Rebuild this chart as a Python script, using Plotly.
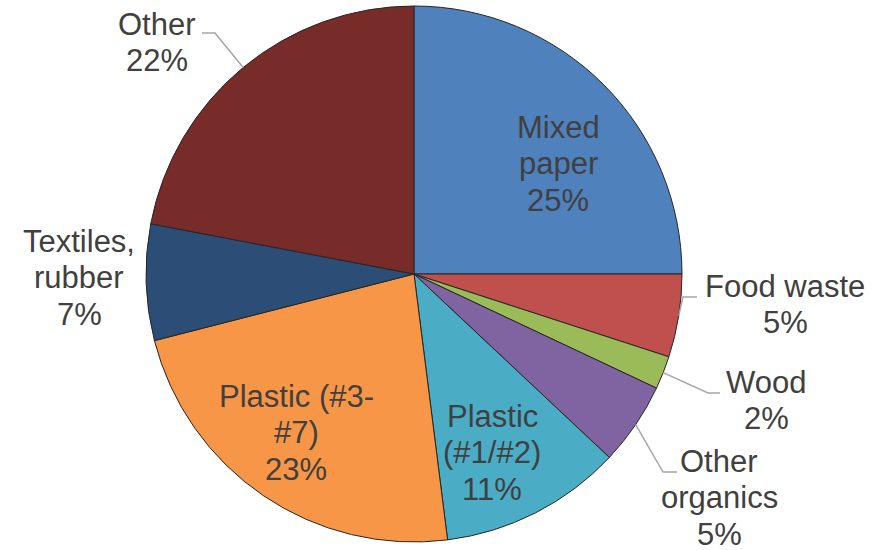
import math
import plotly.graph_objects as go

# Waste composition shares (percent), clockwise from 12 o'clock
categories = ["Mixed paper", "Food waste", "Wood", "Other organics",
              "Plastic (#1/#2)", "Plastic (#3-#7)", "Textiles, rubber", "Other"]
shares = [25, 5, 2, 5, 11, 23, 7, 22]
colors = ["#4F81BD", "#C0504D", "#9BBB59", "#8064A2",
          "#4BACC6", "#F79646", "#2C4D75", "#772C2A"]
# How each category name wraps in its label
label_lines = [["Mixed", "paper"], ["Food waste"], ["Wood"], ["Other", "organics"],
               ["Plastic", "(#1/#2)"], ["Plastic (#3-", "#7)"], ["Textiles,", "rubber"], ["Other"]]

W, H = 879, 550
CX, CY, R = 414, 274, 268          # pie centre / radius in pixels
FONT = 31
LINE_GAP = 36.5
TEXT_COLOR = "#404040"

# Label block: x centre and first baseline (pixels)
label_pos = [(558, 138), (785, 297), (766, 393), (719, 472),
             (492, 427), (296, 407), (79, 252), (157, 35)]
# Leader lines: elbow point and end point (pixels); None = no leader
leaders = [None, ((683, 297), (697, 297)), ((708, 393), (720, 393)),
           ((663, 472), (677, 472)), None, None, None, ((215, 33), (202, 33))]


def px(x):
    return x / W


def py(y):
    return 1 - y / H


fig = go.Figure(go.Pie(
    labels=categories,
    values=shares,
    sort=False,
    direction="clockwise",
    rotation=0,
    marker=dict(colors=colors, line=dict(color="#262626", width=1)),
    textinfo="none",
    hoverinfo="label+percent",
    showlegend=False,
    domain=dict(x=[px(CX - R), px(CX + R)], y=[py(CY + R), py(CY - R)]),
))

total = sum(shares)
annotations = []
shapes = []
cum = 0
for i, v in enumerate(shares):
    mid = (cum + v / 2) / total * 2 * math.pi
    cum += v
    lines = label_lines[i] + [f"{round(v / total * 100)}%"]
    x0, base = label_pos[i]
    for j, line in enumerate(lines):
        annotations.append(dict(
            x=px(x0), y=py(base + j * LINE_GAP - 0.35 * FONT),
            xref="paper", yref="paper", xanchor="center", yanchor="middle",
            text=line, showarrow=False,
            font=dict(family="Liberation Sans, Arial", size=FONT, color=TEXT_COLOR),
        ))
    if leaders[i] is not None:
        sx = CX + R * math.sin(mid)
        sy = CY - R * math.cos(mid)
        (ex, ey), (fx, fy) = leaders[i]
        shapes.append(dict(
            type="path", xref="paper", yref="paper",
            path=f"M {px(sx)} {py(sy)} L {px(ex)} {py(ey)} L {px(fx)} {py(fy)}",
            line=dict(color="#A6A6A6", width=1.5),
        ))

fig.update_layout(
    width=W, height=H,
    margin=dict(l=0, r=0, t=0, b=0),
    paper_bgcolor="white",
    plot_bgcolor="white",
    annotations=annotations,
    shapes=shapes,
)

fig.write_html("out.html")
